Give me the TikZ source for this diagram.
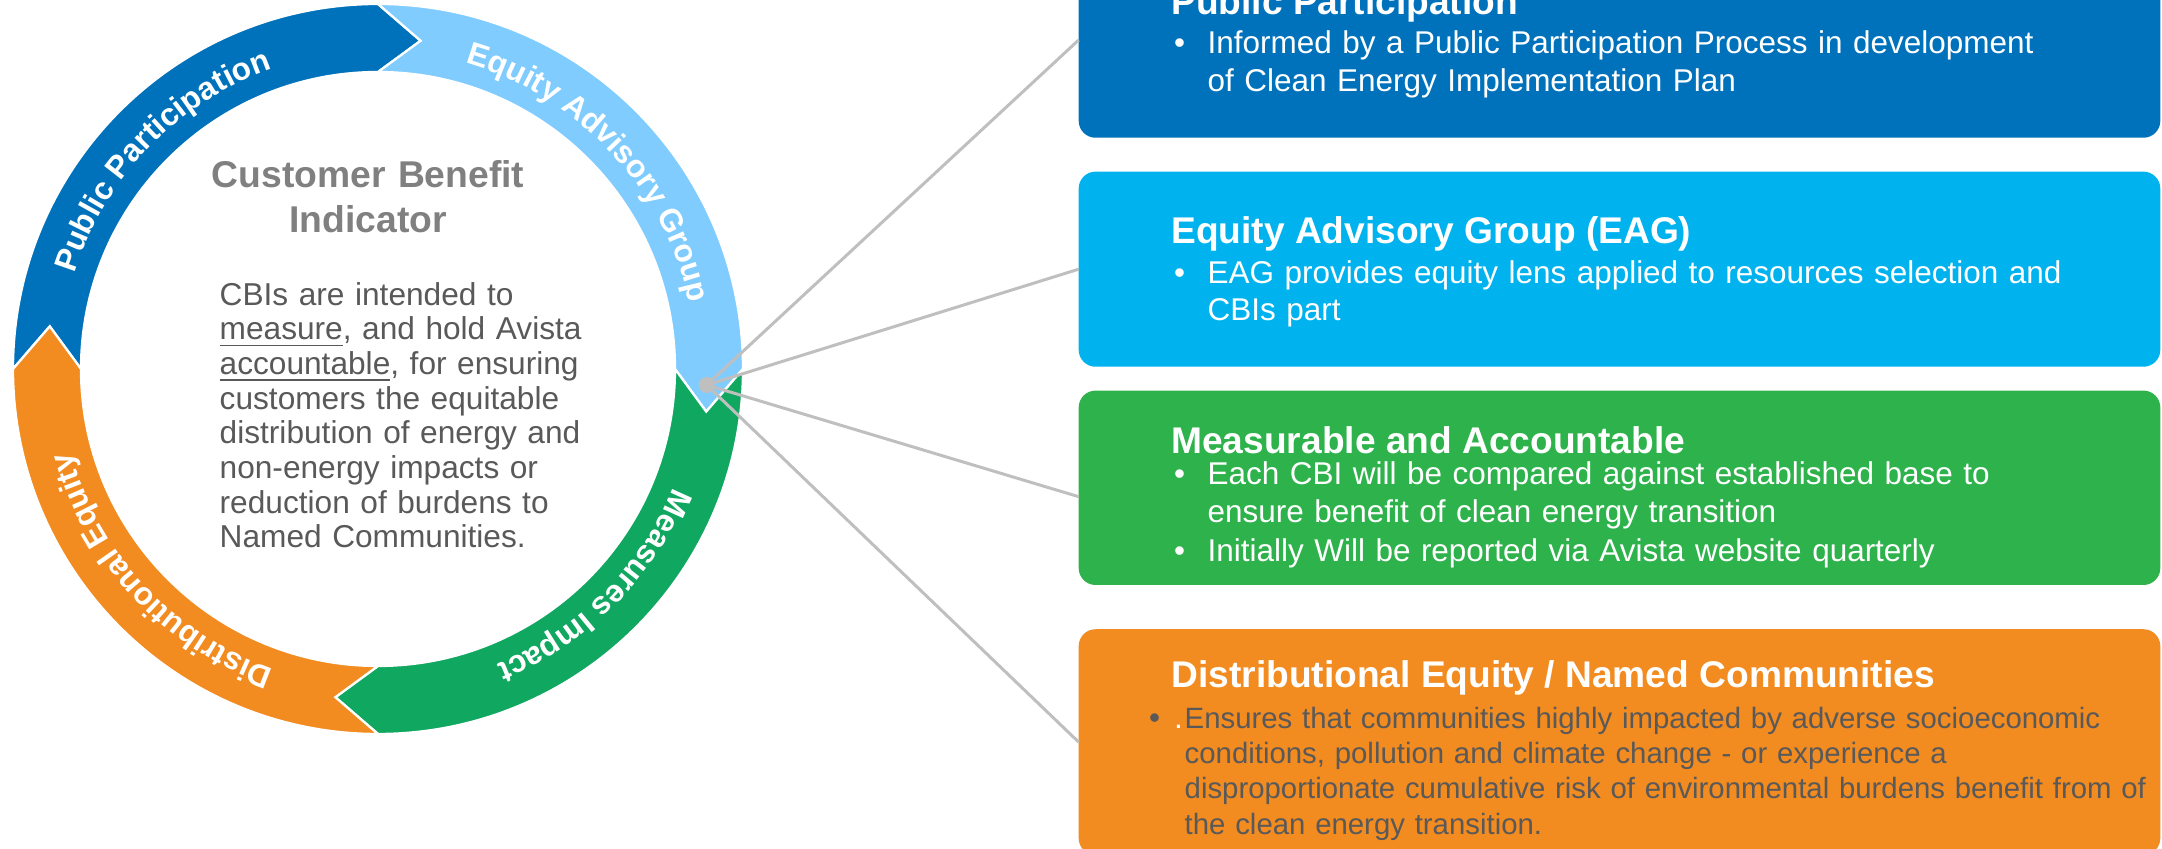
\documentclass[tikz,border=0pt]{standalone}
\usepackage{fontspec}
\setmainfont{Liberation Sans}
\usetikzlibrary{decorations.text}
\definecolor{ringPP}{RGB}{0,114,188}
\definecolor{ringEAG}{RGB}{128,204,255}
\definecolor{ringMI}{RGB}{16,167,96}
\definecolor{ringDE}{RGB}{242,139,32}
\definecolor{boxPP}{RGB}{0,114,188}
\definecolor{boxEAG}{RGB}{0,178,238}
\definecolor{boxMA}{RGB}{46,178,75}
\definecolor{boxDE}{RGB}{242,139,32}
\definecolor{conngray}{RGB}{191,191,191}
\definecolor{headgray}{RGB}{128,128,128}
\definecolor{bodygray}{RGB}{89,89,89}
\newcommand\myhdr{\bfseries\fontsize{10.56pt}{12.6pt}\selectfont}
\newcommand\myitem{\fontsize{8.95pt}{10.67pt}\selectfont}
\newcommand\myitemd{\fontsize{8.35pt}{10.05pt}\selectfont}
\newcommand\myring{\bfseries\fontsize{9pt}{10pt}\selectfont}
\newcommand\mycbi{\bfseries\fontsize{10.6pt}{12.69pt}\selectfont}
\newcommand\mybody{\fontsize{9.0pt}{9.84pt}\selectfont}
\begin{document}
\begin{tikzpicture}[x=0.01cm, y=0.01cm,
  box/.style={rectangle, rounded corners=4.8pt, inner sep=0pt, outer sep=0pt, minimum width=10.81cm},
  seg/.style={draw=white, line width=0.65pt, line join=miter},
  conn/.style={draw=conngray, line width=0.85pt},
  hdr/.style={anchor=base west, inner sep=0pt, text=white, font=\myhdr},
  bul/.style={anchor=base west, inner sep=0pt, font=\myitem},
  itm/.style={anchor=base west, inner sep=0pt, text width=10.5cm, align=left, font=\myitem, text=white},
  ringtext/.style={decorate, decoration={text along path, text align=center, text={|\myring\color{white}|#1}}}
  ]
\useasboundingbox (0,0) rectangle (2162,849);

% ---- ring ----
\begin{scope}[shift={(378,480)}]
  \foreach \s/\col in {180/ringPP, 90/ringEAG, 0/ringMI, -90/ringDE} {
    \pgfmathsetmacro\e{\s-90}
    \pgfmathsetmacro\et{\s-97.4}
    \pgfmathsetmacro\st{\s-7.4}
    \path[seg, fill=\col] (\s:365) arc[start angle=\s, end angle=\e, radius=365]
      -- (\et:331) -- (\e:297) arc[start angle=\e, end angle=\s, radius=297]
      -- (\st:331) -- cycle;
  }
  \path[ringtext={Public Participation}] (181:318) arc[start angle=181, end angle=91, radius=318];
  \path[ringtext={Equity Advisory Group}] (88:318) arc[start angle=88, end angle=-2, radius=318];
  \path[ringtext={Measures Impact}] (0:318) arc[start angle=0, end angle=-90, radius=318];
  \path[ringtext={Distributional Equity}] (-92:318) arc[start angle=-92, end angle=-182, radius=318];
\end{scope}

% ---- centre text ----
\node[anchor=base, inner sep=0pt, text width=4cm, align=center, font=\mycbi, text=headgray] (cbi) at (368,661) {Customer Benefit\\Indicator};
\node[anchor=base west, inner sep=0pt, text width=4.6cm, align=left, font=\mybody, text=bodygray] (cbibody) at (219,543.6)
  {CBIs are intended to\\ \underline{measure}, and hold Avista\\ \underline{accountable}, for ensuring\\ customers the equitable\\ distribution of energy and\\ non-energy impacts or\\ reduction of burdens to\\ Named Communities.};

% ---- boxes ----
\node[box, fill=boxPP, minimum height=1.954cm] (b1) at (1619.5,809) {};
\node[box, fill=boxEAG, minimum height=1.95cm] (b2) at (1619.5,579.8) {};
\node[box, fill=boxMA, minimum height=1.943cm] (b3) at (1619.5,361.2) {};
\node[box, fill=boxDE, minimum height=2.257cm] (b4) at (1619.5,106.85) {};

% ---- connectors ----
\node[circle, fill=conngray, minimum size=0.16cm, inner sep=0pt] (hub) at (706.7,464) {};
\coordinate (b3in) at ([yshift=-0.089cm]b3.west);
\draw[conn] (hub.center) -- (b1.west);
\draw[conn] (hub.center) -- (b2.west);
\draw[conn] (hub.center) -- (b3in);
\draw[conn] (hub.center) -- (b4.west);

% ---- box texts ----
\node[hdr] (h1) at (1170.7,834) {Public Participation};
\node[bul, text=white] (u1) at (1173.4,795) {•};
\node[itm] (t1) at (1207,795) {Informed by a Public Participation Process in development\\of Clean Energy Implementation Plan};

\node[hdr] (h2) at (1170.7,605.7) {Equity Advisory Group (EAG)};
\node[bul, text=white] (u2) at (1173.4,565.7) {•};
\node[itm] (t2) at (1207,565.7) {EAG provides equity lens applied to resources selection and\\CBIs part};

\node[hdr] (h3) at (1170.7,395.7) {Measurable and Accountable};
\node[bul, text=white] (u3a) at (1173.4,364) {•};
\node[itm] (t3a) at (1207,364) {Each CBI will be compared against established base to\\ensure benefit of clean energy transition};
\node[bul, text=white] (u3b) at (1173.4,287.3) {•};
\node[itm] (t3b) at (1207,287.3) {Initially Will be reported via Avista website quarterly};

\node[hdr] (h4) at (1170.7,161.7) {Distributional Equity / Named Communities};
\node[bul, text=bodygray] (u4) at (1148.4,120.7) {•};
\node[bul, text=white] (d4) at (1173.3,120.7) {.};
\node[itm, font=\myitemd, text=bodygray] (t4) at (1184,120.7) {Ensures that communities highly impacted by adverse socioeconomic\\conditions, pollution and climate change - or experience a\\disproportionate cumulative risk of environmental burdens benefit from of\\the clean energy transition.};
\end{tikzpicture}
\end{document}
